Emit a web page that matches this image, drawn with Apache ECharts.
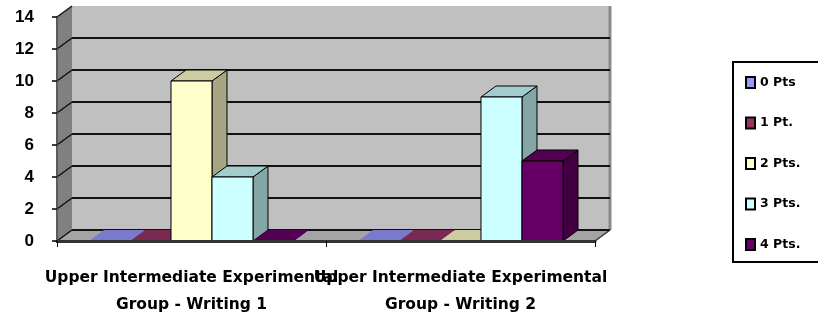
<!DOCTYPE html>
<html>
<head>
<meta charset="utf-8">
<script src="https://cdn.jsdelivr.net/npm/echarts@6/dist/echarts.min.js"></script>
<style>
  html, body { margin: 0; padding: 0; background: #ffffff; }
  #chart { width: 818px; height: 320px; }
</style>
</head>
<body>
<div id="chart"></div>
<script>
// Chart data
const categories = [
  'Upper Intermediate Experimental Group - Writing 1',
  'Upper Intermediate Experimental Group - Writing 2'
];
const seriesNames = ['0 Pts', '1 Pt.', '2 Pts.', '3 Pts.', '4 Pts.'];
const pts0 = [0, 0];
const pts1 = [0, 0];
const pts2 = [10, 0];
const pts3 = [4, 9];
const pts4 = [0, 5];
const yTicks = [0, 2, 4, 6, 8, 10, 12, 14];

const seriesValues = [pts0, pts1, pts2, pts3, pts4];
const seriesColors = ['#9999FF', '#993366', '#FFFFCC', '#CCFFFF', '#660066'];

// 3D depth offset of the walls and bar sides (pixels)
const DX = 15, DY = -11;
const GROUP = 0.762;   // share of a category band taken by the bar cluster

function shade(hex, f) {
  const n = parseInt(hex.slice(1), 16);
  const r = Math.round(((n >> 16) & 255) * f);
  const g = Math.round(((n >> 8) & 255) * f);
  const b = Math.round((n & 255) * f);
  return 'rgb(' + r + ',' + g + ',' + b + ')';
}

// Side wall, back wall, floor and gridlines of the 3D box
function renderWalls(params, api) {
  const cs = params.coordSys;
  const x0 = cs.x, x1 = cs.x + cs.width;
  const yt = cs.y, yb = cs.y + cs.height;
  const children = [
    { type: 'polygon', shape: { points: [[x0, yt], [x0 + DX, yt + DY], [x0 + DX, yb + DY], [x0, yb]] },
      style: { fill: '#808080' } },
    { type: 'rect', shape: { x: x0 + DX, y: yt + DY, width: x1 - x0, height: yb - yt },
      style: { fill: '#C0C0C0' } },
    { type: 'polygon', shape: { points: [[x0, yb], [x1, yb], [x1 + DX, yb + DY], [x0 + DX, yb + DY]] },
      style: { fill: '#A4A4A4' } },
    { type: 'line', shape: { x1: x1 + DX, y1: yt + DY, x2: x1 + DX, y2: yb + DY },
      style: { stroke: '#8a8a8a', lineWidth: 3 } },
    { type: 'line', shape: { x1: x1, y1: yb, x2: x1 + DX, y2: yb + DY },
      style: { stroke: '#333', lineWidth: 1.5 } }
  ];
  yTicks.forEach(function (t) {
    const y = api.coord([0, t])[1];
    children.push({ type: 'line', shape: { x1: x0, y1: y, x2: x0 + DX, y2: y + DY },
      style: { stroke: '#111', lineWidth: 1.5 } });
    if (t < yTicks[yTicks.length - 1]) {
      children.push({ type: 'line', shape: { x1: x0 + DX, y1: y + DY, x2: x1 + DX, y2: y + DY },
        style: { stroke: '#111', lineWidth: 2 } });
    }
  });
  return { type: 'group', children: children };
}

// One 3D column: front face, top face and right side face
function barRenderer(k) {
  const n = seriesNames.length;
  const color = seriesColors[k];
  return function (params, api) {
    const ci = api.value(0), v = api.value(1);
    const base = api.coord([ci, 0]);
    const top = api.coord([ci, v]);
    const band = api.size([1, 0])[0];
    const bw = band * GROUP / n;
    const xl = base[0] - band * GROUP / 2 + k * bw;
    const xr = xl + bw;
    const yb = base[1], yt = top[1];
    const topFace = { type: 'polygon',
      shape: { points: [[xl, yt], [xr, yt], [xr + DX, yt + DY], [xl + DX, yt + DY]] },
      style: { fill: shade(color, 0.8), stroke: v > 0 ? '#000' : null, lineWidth: 1 } };
    if (v <= 0) {
      return { type: 'group', children: [topFace] };
    }
    return { type: 'group', children: [
      { type: 'polygon',
        shape: { points: [[xr, yt], [xr + DX, yt + DY], [xr + DX, yb + DY], [xr, yb]] },
        style: { fill: shade(color, 0.65), stroke: '#000', lineWidth: 1 } },
      topFace,
      { type: 'rect', shape: { x: xl, y: yt, width: bw, height: yb - yt },
        style: { fill: color, stroke: '#000', lineWidth: 1 } }
    ] };
  };
}

const series = [{
  type: 'custom',
  name: '__walls',
  coordinateSystem: 'cartesian2d',
  renderItem: renderWalls,
  data: [[0, 0]],
  encode: { x: 0, y: 1 },
  silent: true,
  clip: false,
  z: 1
}];
seriesNames.forEach(function (name, k) {
  series.push({
    type: 'custom',
    name: name,
    coordinateSystem: 'cartesian2d',
    renderItem: barRenderer(k),
    data: seriesValues[k].map(function (v, i) { return [i, v]; }),
    encode: { x: 0, y: 1 },
    itemStyle: { color: seriesColors[k] },
    clip: false,
    z: 2
  });
});

const chart = echarts.init(document.getElementById('chart'), null, { renderer: 'canvas' });
chart.setOption({
  animation: false,
  backgroundColor: '#ffffff',
  grid: { left: 57, right: 223, top: 17, bottom: 79 },
  legend: {
    data: seriesNames,
    orient: 'vertical',
    left: 733,
    top: 62,
    icon: 'rect',
    itemWidth: 9,
    itemHeight: 11,
    itemGap: 27.5,
    padding: [14, 80, 11, 12],
    borderColor: '#000',
    borderWidth: 2,
    selectedMode: false,
    itemStyle: { borderColor: '#000', borderWidth: 2 },
    textStyle: { fontFamily: 'DejaVu Sans', fontWeight: 'bold', fontSize: 12.5, color: '#000' }
  },
  xAxis: {
    type: 'category',
    data: categories,
    boundaryGap: true,
    z: 3,
    axisLine: { show: true, lineStyle: { color: '#333', width: 3 } },
    axisTick: { show: true, length: 6, lineStyle: { color: '#000', width: 1 } },
    axisLabel: {
      interval: 0,
      margin: 23,
      formatter: function (v) { return v.replace(' Group', '\nGroup'); },
      fontFamily: 'DejaVu Sans',
      fontWeight: 'bold',
      fontSize: 15.5,
      lineHeight: 27,
      color: '#000'
    },
    splitLine: { show: false }
  },
  yAxis: {
    type: 'value',
    min: 0,
    max: 14,
    interval: 2,
    z: 3,
    axisLine: { show: true, lineStyle: { color: '#5a5a5a', width: 2 } },
    axisTick: { show: true, length: 5, lineStyle: { color: '#000', width: 1.5 } },
    axisLabel: {
      margin: 23,
      fontFamily: 'Liberation Sans',
      fontWeight: 'bold',
      fontSize: 17,
      color: '#000'
    },
    splitLine: { show: false }
  },
  series: series
});
</script>
</body>
</html>
